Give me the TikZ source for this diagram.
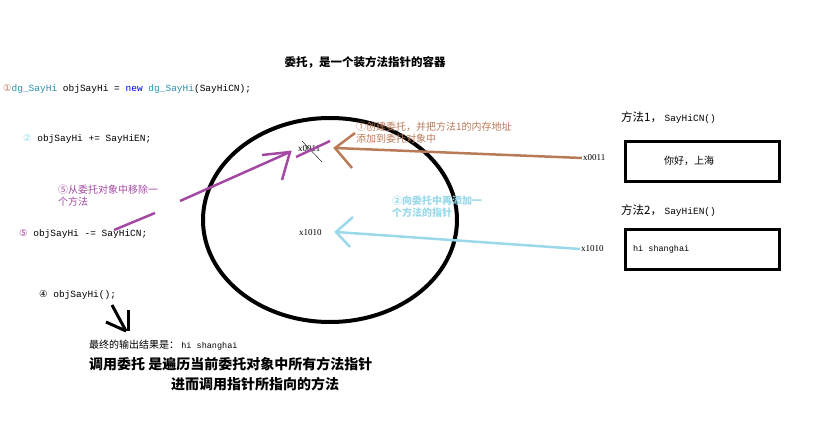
\documentclass[tikz,border=0pt]{standalone}
\usepackage{fontspec}
\setmainfont{Liberation Serif}
\newfontfamily\cjk{Noto Sans CJK SC}
\newfontfamily\code{Liberation Mono}
\newfontfamily\sym{DejaVu Sans}
\definecolor{kwblue}{RGB}{0,0,255}
\definecolor{tyteal}{RGB}{43,145,175}
\definecolor{brownarr}{RGB}{185,122,87}
\definecolor{purparr}{RGB}{163,73,164}
\definecolor{bluearr}{RGB}{153,217,234}
\tikzset{every picture/.style={line width=0.75pt}}
\tikzset{
  codetxt/.style={anchor=west,inner sep=0.75pt,font=\code\fontsize{9.5}{11}\selectfont},
  cjktxt/.style={anchor=west,inner sep=0.75pt,font=\cjk\fontsize{10}{12}\selectfont,align=left},
  addrtxt/.style={anchor=west,inner sep=0.75pt,font=\fontsize{9}{10}\selectfont},
  arrowline/.style={line width=2.5pt},
  methodbox/.style={draw,line width=2.5pt,minimum width=154pt,minimum height=40pt,anchor=north west}
}
\begin{document}
\begin{tikzpicture}[x=1pt,y=1pt,yscale=-1]
\useasboundingbox (0,0) rectangle (820,444);

% title
\node (title) at (365,62) [inner sep=0.75pt,font=\cjk\fontsize{11.5}{13}\selectfont\bfseries] {委托，是一个装方法指针的容器};

% code lines
\node (line1) at (2,89) [codetxt] {{\sym\color{brownarr}①}{\color{tyteal}dg\_SayHi} objSayHi = {\color{kwblue}new} {\color{tyteal}dg\_SayHi}(SayHiCN);};
\node (line2) at (22,139) [codetxt] {{\sym\color{bluearr}②}  objSayHi += SayHiEN;};
\node (line5) at (18,234) [codetxt] {{\sym\color{purparr}⑤}  objSayHi -= SayHiCN;};
\node (line4) at (38,295) [codetxt] {{\sym ④}   objSayHi();};

% container
\draw [line width=4pt] (330,220) ellipse [x radius=127, y radius=102];

% addresses inside
\node (in1) at (297,149) [addrtxt] {x0011};
\node (in2) at (298,233) [addrtxt] {x1010};
\draw [line width=0.4pt] (302,141) -- (322,162);

% methods
\node (m1lbl) at (620,118) [cjktxt,font=\cjk\fontsize{11.5}{13}\selectfont] {方法1，  {\code\fontsize{9.5}{11}\selectfont SayHiCN()}};
\node (box1) at (624,140) [methodbox] {};
\node (box1txt) at (663,161) [cjktxt] {你好，上海};
\node (out1) at (582,158) [addrtxt] {x0011};
\node (m2lbl) at (620,211) [cjktxt,font=\cjk\fontsize{11.5}{13}\selectfont] {方法2，  {\code\fontsize{9.5}{11}\selectfont SayHiEN()}};
\node (box2) at (624,228) [methodbox] {};
\node (box2txt) at (632,249) [codetxt,font=\code\fontsize{8.5}{10}\selectfont] {hi shanghai};
\node (out2) at (580,249) [addrtxt] {x1010};

% brown: create
\coordinate (b1) at (335,148);
\draw [brownarr,arrowline] (out1.west) -- (b1);
\draw [brownarr,arrowline] (355,133) -- (b1) -- (352,168);
\node (note1) at (355,133) [cjktxt,text=brownarr] {①创建委托，并把方法1的内存地址\\添加到委托对象中};

% blue: add
\coordinate (c1) at (336,232);
\draw [bluearr,arrowline] (out2.west) -- (c1);
\draw [bluearr,arrowline] (353,217) -- (c1) -- (350,247);
\node (note2) at (391,207) [cjktxt,text=bluearr,font=\cjk\fontsize{10}{12}\selectfont\bfseries] {②向委托中再添加一\\个方法的指针};

% purple: remove
\coordinate (p1) at (290,152);
\draw [purparr,arrowline] (180,201) -- (p1);
\draw [purparr,arrowline] (114,230) -- (155,213);
\draw [purparr,arrowline] (262,155) -- (p1) -- (282,180);
\draw [purparr,arrowline] (296,157) -- (330,141);
\node (note5) at (57,196) [cjktxt,text=purparr] {⑤从委托对象中移除一\\个方法};

% result
\draw [line width=3pt] (128,310) -- (128,331);
\draw [line width=3pt] (106,322) -- (126,331);
\draw [line width=3pt] (112,305) -- (126,331);
\node (result) at (88,345) [cjktxt] {最终的输出结果是： {\code\fontsize{8.5}{10}\selectfont hi shanghai}};
\node (sum1) at (88,364) [cjktxt,font=\cjk\fontsize{14}{16}\selectfont\bfseries] {调用委托 是遍历当前委托对象中所有方法指针};
\node (sum2) at (170,384) [cjktxt,font=\cjk\fontsize{14}{16}\selectfont\bfseries] {进而调用指针所指向的方法};
\end{tikzpicture}
\end{document}
